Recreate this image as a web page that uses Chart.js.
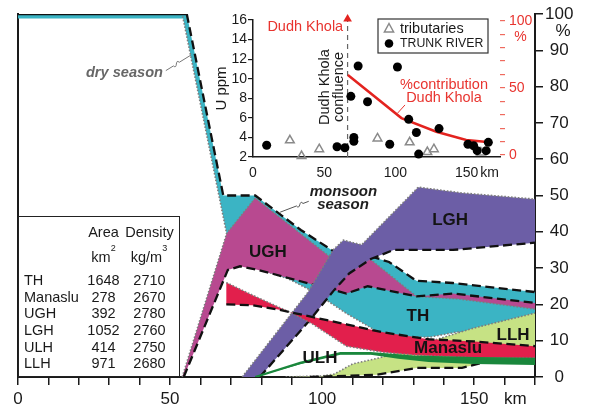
<!DOCTYPE html>
<html>
<head>
<meta charset="utf-8">
<script src="https://cdn.jsdelivr.net/npm/chart.js"></script>
<style>
html,body{margin:0;padding:0;background:#fff;}
#wrap{position:relative;width:589px;height:411px;overflow:hidden;font-family:"Liberation Sans",Arial,Helvetica,sans-serif;color:#1a1a1a;}
#main{position:absolute;left:0;top:0;}
#inset{position:absolute;left:200px;top:0;}
#tbl{position:absolute;left:18px;top:216px;width:162px;height:161px;border:1.5px solid #222;box-sizing:border-box;}
.t{position:absolute;font-size:14.5px;line-height:16px;white-space:nowrap;}
.c{width:70px;text-align:center;}
sup{font-size:9px;line-height:0;vertical-align:top;position:relative;top:-1px;}
</style>
</head>
<body>
<div id="wrap">
  <canvas id="main" width="589" height="411"></canvas>
  <canvas id="inset" width="345" height="185"></canvas>
  <div id="tbl"></div>
  <div id="tbltext"></div>
</div>
<script>
// ---------------- DATA ----------------
// Main plot: % contribution vs distance (km); dry season (dotted) and monsoon season (dashed) curves
const thMonsoon  = [[0,100],[55.5,100],[67.5,50],[78,50],[93,40.5],[104,34.5],[115,33.5],[122,31.7],[131,26.5],[143,25.9],[170,23.4]];
const thDry      = [[0,100],[54,100],[68.6,39.5],[76,31],[81,29.2],[89,27],[96,24],[100.3,21.8],[108,17.5],[119,12.1],[128,11],[135.5,11],[144.4,12.4],[170,12]];
const ughDry     = [[54,0],[68.6,39.5],[78,49.3],[108,29.5],[115,33],[131,22.2],[145,21.5],[170,18.7]];
const ughMonsoon = [[54.5,0],[69,29.5],[73,30.5],[79,29.5],[108,23],[115,25],[131,22.2],[143,23],[170,20.4]];
const lghDry     = [[73.7,0],[95.4,23.4],[103.6,35],[107,37.7],[113,36.4],[131.6,52.3],[146,50.7],[170,49]];
const lghMonsoon = [[79.5,0],[96,15.7],[104,24],[109,28.6],[116,32.5],[123.5,35],[143,35],[170,37]];
const llhDry     = [[88,0],[100,0.3],[104,0.8],[110,3.6],[119,5.3],[130,8],[137,10.2],[150,13.5],[170,17.6]];
const llhMonsoon = [[96,0],[118,0.6],[131,2.5],[146,2.5],[153,4],[170,4.2]];
const manDry     = [[68.5,26],[77,22.6],[90,17.6],[97,14.5],[108,8.5],[120,6.8],[131,6],[150,5.3],[170,5.2]];
const manMonsoon = [[68.5,20],[77,19.8],[86,18.5],[97,16.5],[108,14.5],[120,12.3],[135,10.4],[150,9.8],[170,8.5]];
const ulhUpper   = [[78,0],[92.8,3.9],[106,6.6],[116,6.6],[130,5.6],[150,5.2],[170,5.0]];
const ulhLower   = [[78,0],[92.8,3.5],[106,6.1],[116,6.1],[125,5.0],[135,4.1],[150,3.6],[170,3.3]];

// Inset: U ppm vs distance
const tribKm  = [25.9,34.1,46.5,87.4,110,122.4,127,160];
const tribU   = [3.7,2.1,2.8,3.9,3.5,2.5,2.8,2.45];
const trunkKm = [9.6,59,64.5,68.7,73.8,70.8,70.8,80.4,101.4,96,109.3,114.7,116.3,130.6,150.9,154.9,157.4,163.7,165.2];
const trunkU  = [3.2,3.05,2.95,8.2,11.3,4.0,3.6,7.65,11.2,3.3,5.85,4.5,2.3,4.9,3.3,3.15,2.65,2.65,3.5];
const contribKm  = [66.6,104.2,128.7,149.7,162.6];
const contribPct = [59.6,27.5,17.3,11.2,9.9];
const confluenceKm = 66.4;

// Table
const tableUnits   = ['TH','Manaslu','UGH','LGH','ULH','LLH'];
const tableArea    = [1648,278,392,1052,414,971];
const tableDensity = [2710,2670,2780,2760,2750,2680];

// Tick labels
const mainXLabels = [0,50,100,150];
const insetRedLabels = [0,50,100];

// ---------------- STYLE ----------------
const FAM = "'Liberation Sans', Arial, Helvetica, sans-serif";
const TEAL='#3bb4c4', MAG='#b84990', PURP='#6c5ea6', RED='#e21f4c', LGRN='#c6e284', DGRN='#1a873c';
const INK='#1a1a1a', REDT='#e8342f';
Chart.defaults.font.family = FAM;
Chart.defaults.color = INK;
Chart.defaults.animation = false;

const P = a => a.map(p => ({x:p[0], y:p[1]}));
const polygon = (upper, lower) => P(upper.concat(lower.slice().reverse(), [upper[0]]));

const ds = [];
let ord = 1000;
function addFill(upper, lower, color){
  ds.push({data: polygon(upper, lower), fill:'shape', backgroundColor:color, borderColor:'rgba(0,0,0,0)',
           borderWidth:0, pointRadius:0, tension:0, yAxisID:'y', order: ord--});
}
function addLine(pts, style, extra){
  ds.push(Object.assign({data:P(pts), fill:false, pointRadius:0, tension:0, yAxisID:'y', order: ord--}, style, extra||{}));
}
const DRY = {borderColor:'#7d7d7d', borderWidth:1.6, borderDash:[1.6,1.8]};
const MON = {borderColor:'#111', borderWidth:2.3, borderDash:[9,4.5]};

// TH
addFill(thMonsoon, thDry, TEAL);
addLine(thMonsoon.filter(p => p[1] === 100), {borderColor:TEAL, borderWidth:9}, {clip:0});
addLine(thDry, DRY);
addLine(thMonsoon, MON, {segment:{borderDash: c => (c.p0.parsed.y === 100 && c.p1.parsed.y === 100) ? [] : undefined}});
// UGH
addFill(ughDry, ughMonsoon, MAG); addLine(ughDry, DRY); addLine(ughMonsoon, MON);
// LGH
addFill(lghDry, lghMonsoon, PURP); addLine(lghDry, DRY); addLine(lghMonsoon, MON);
// LLH
addFill(llhDry, llhMonsoon, LGRN); addLine(llhDry, DRY); addLine(llhMonsoon, MON);
// Manaslu
addFill(manDry, manMonsoon, RED); addLine(manDry, DRY); addLine(manMonsoon, MON);
// ULH
addFill(ulhUpper, ulhLower, DGRN); addLine(ulhUpper, {borderColor:DGRN, borderWidth:2.2});

function squiggle(ctx, ax, ay, bx, by, t0){
  const dx=bx-ax, dy=by-ay, L=Math.hypot(dx,dy), ux=dx/L, uy=dy/L, nx=-uy, ny=ux;
  const m1x=ax+dx*t0, m1y=ay+dy*t0, m2x=m1x+ux*7, m2y=m1y+uy*7;
  ctx.beginPath(); ctx.moveTo(ax,ay); ctx.lineTo(m1x,m1y);
  ctx.bezierCurveTo(m1x+ux*2+nx*6, m1y+uy*2+ny*6, m2x-ux*2-nx*6, m2y-uy*2-ny*6, m2x, m2y);
  ctx.lineTo(bx,by); ctx.stroke();
}

const mainAnno = {
  id:'mainAnno',
  afterDraw(chart){
    const {ctx, chartArea:ca, scales:{x, y}} = chart;
    const X=v=>x.getPixelForValue(v), Y=v=>y.getPixelForValue(v);
    ctx.save();
    ctx.textAlign='center'; ctx.textBaseline='middle';
    ctx.fillStyle='#141414'; ctx.font=`bold 17px ${FAM}`;
    [['UGH',82.2,34.4],['LGH',142.1,43.3],['TH',131.5,16.6],['LLH',162.8,11.6],['Manaslu',141.4,8.0],['ULH',99.3,5.2]]
      .forEach(([t,kx,ky]) => ctx.fillText(t, X(kx), Y(ky)));
    // season annotations
    ctx.font=`italic bold 14.6px ${FAM}`; ctx.fillStyle='#676767';
    ctx.fillText('dry season', X(35), Y(83.7));
    ctx.strokeStyle='#777'; ctx.lineWidth=1;
    squiggle(ctx, X(48.6), Y(84.4), X(56.9), Y(88.7), 0.3);
    ctx.font=`italic bold 15px ${FAM}`; ctx.fillStyle='#1f1f1f';
    ctx.fillText('monsoon', X(107), Y(51.0));
    ctx.fillText('season', X(106.9), Y(47.3));
    ctx.strokeStyle='#555';
    squiggle(ctx, X(95.6), Y(48.4), X(86.2), Y(45.4), 0.2);
    // axis units
    ctx.fillStyle=INK; ctx.font=`17px ${FAM}`;
    ctx.fillText('%', ca.right+28, Y(100)+17);
    ctx.fillText('km', X(163.5), ca.bottom+22);
    ctx.restore();
  }
};

new Chart(document.getElementById('main'), {
  type:'line',
  data:{datasets: ds},
  options:{
    responsive:false, events:[],
    layout:{padding:{left:18, top:14, right:0, bottom:0}},
    plugins:{legend:{display:false}, tooltip:{enabled:false}},
    elements:{point:{radius:0}, line:{tension:0}},
    scales:{
      x:{type:'linear', min:0, max:170, position:'bottom',
         ticks:{stepSize:10, autoSkip:false, maxRotation:0, font:{size:17}, color:INK, padding:4,
                callback:v => mainXLabels.includes(v) ? String(v) : ''},
         grid:{display:true, drawOnChartArea:false, drawTicks:true, tickLength:8, color:INK, lineWidth:1.5},
         border:{display:true, color:INK, width:2},
         afterFit(s){ s.height = 34; }},
      y:{type:'linear', position:'right', min:0, max:100,
         ticks:{stepSize:10, autoSkip:false, font:{size:17}, color:INK, padding:2, crossAlign:'center'},
         grid:{drawOnChartArea:false, tickLength:8, color:INK, lineWidth:1.5},
         border:{display:true, color:INK, width:2},
         afterFit(s){ s.width = 54; }},
      yL:{type:'linear', position:'left', min:0, max:100,
         ticks:{display:false}, grid:{display:false, drawTicks:false},
         border:{display:true, color:INK, width:2},
         afterFit(s){ s.width = 0; }}
    }
  },
  plugins:[mainAnno]
});

// ---------------- INSET ----------------
const insetAnno = {
  id:'insetAnno',
  afterDraw(chart){
    const {ctx, chartArea:ca, scales:{x, y}} = chart;
    const X=v=>x.getPixelForValue(v), Y=v=>y.getPixelForValue(v);
    ctx.save();
    ctx.textAlign='center'; ctx.textBaseline='middle';
    ctx.fillStyle=REDT; ctx.font=`14.5px ${FAM}`;
    ctx.fillText('Dudh Khola', X(36.7), Y(15.32));
    ctx.fillText('%contribution', X(134.1), Y(9.36));
    ctx.fillText('Dudh Khola', X(134.1), Y(8.03));
    ctx.font=`14px ${FAM}`;
    ctx.fillText('%', ca.right+20.5, Y(16)+17);
    ctx.strokeStyle=REDT; ctx.lineWidth=1;
    ctx.beginPath(); ctx.moveTo(X(106.7), Y(7.32)); ctx.lineTo(X(101.3), Y(6.45)); ctx.stroke();
    // rotated confluence label
    ctx.fillStyle=INK; ctx.font=`14.5px ${FAM}`;
    [['Dudh Khola',50.5],['confluence',60.4]].forEach(([t,k]) => {
      ctx.save(); ctx.translate(X(k), Y(9.15)); ctx.rotate(-Math.PI/2); ctx.fillText(t,0,0); ctx.restore();
    });
    ctx.font=`14px ${FAM}`;
    ctx.fillText('km', X(150)+23, ca.bottom+16);
    // legend
    const lx=ca.left+125, ly=19;
    ctx.fillStyle='#fff'; ctx.fillRect(lx, ly, 110, 34);
    ctx.strokeStyle='#333'; ctx.lineWidth=1.2; ctx.strokeRect(lx, ly, 110, 34);
    const tx=lx+11, t1=ly+9.5, t2=ly+24.5;
    ctx.strokeStyle='#8a8a8a'; ctx.lineWidth=1.5;
    ctx.beginPath(); ctx.moveTo(tx, t1-5); ctx.lineTo(tx+4.6, t1+3.5); ctx.lineTo(tx-4.6, t1+3.5); ctx.closePath(); ctx.stroke();
    ctx.fillStyle='#000'; ctx.beginPath(); ctx.arc(tx, t2, 4.3, 0, Math.PI*2); ctx.fill();
    ctx.textAlign='left'; ctx.fillStyle=INK;
    ctx.font=`14.5px ${FAM}`; ctx.fillText('tributaries', lx+22, t1);
    ctx.font=`12.3px ${FAM}`; ctx.fillText('TRUNK RIVER', lx+22, t2+0.5);
    ctx.restore();
  }
};

new Chart(document.getElementById('inset'), {
  type:'line',
  data:{datasets:[
    {data: contribKm.map((k,i)=>({x:k, y:contribPct[i]})), yAxisID:'yR', borderColor:'#e3231f', borderWidth:2.5, pointRadius:0, fill:false, order:1},
    {data: trunkKm.map((k,i)=>({x:k, y:trunkU[i]})), yAxisID:'y', showLine:false, pointRadius:4.5, pointBackgroundColor:'#000', pointBorderWidth:0, clip:false, order:0},
    {data: tribKm.map((k,i)=>({x:k, y:tribU[i]})), yAxisID:'y', showLine:false, pointStyle:'triangle', pointRadius:5,
     pointBackgroundColor:'rgba(255,255,255,0)', pointBorderColor:'#8a8a8a', pointBorderWidth:1.5, clip:false, order:2},
    {data:[{x:confluenceKm, y:2},{x:confluenceKm, y:16.1}], yAxisID:'y', borderColor:'#666', borderWidth:1.2, borderDash:[5,4],
     pointStyle:'triangle', pointRadius:c => c.dataIndex === 1 ? 5 : 0, pointBackgroundColor:'#e3231f', pointBorderColor:'#e3231f',
     pointBorderWidth:0, fill:false, clip:false, order:3}
  ]},
  options:{
    responsive:false, events:[],
    layout:{padding:{left:0, top:20, right:0, bottom:0}},
    plugins:{legend:{display:false}, tooltip:{enabled:false}},
    scales:{
      x:{type:'linear', min:0, max:173.4,
         ticks:{stepSize:50, includeBounds:false, autoSkip:false, font:{size:14}, color:INK, padding:8, maxRotation:0},
         grid:{display:false, drawTicks:false},
         border:{display:true, color:INK, width:1.5},
         afterFit(s){ s.height = 28; }},
      y:{type:'linear', position:'left', min:2, max:16,
         ticks:{stepSize:2, autoSkip:false, font:{size:14}, color:INK, padding:1},
         grid:{drawOnChartArea:false, tickLength:5, color:INK, lineWidth:1.2},
         border:{display:true, color:INK, width:1.5},
         title:{display:true, text:'U ppm', font:{size:15}, color:INK, padding:{top:13, bottom:0}},
         afterFit(s){ s.width = 53; }},
      yR:{type:'linear', position:'right', min:-1.5, max:100.5,
         ticks:{stepSize:10, includeBounds:false, autoSkip:false, color:REDT, font:{size:14}, padding:4, crossAlign:'near',
                callback:v => insetRedLabels.includes(v) ? String(v) : ''},
         grid:{drawOnChartArea:false, tickLength:5, color:'#ef6a5f', lineWidth:1.2},
         border:{display:false},
         afterFit(s){ s.width = 45; }}
    }
  },
  plugins:[insetAnno]
});

// ---------------- TABLE (HTML text) ----------------
(function(){
  const box = document.getElementById('tbltext');
  function put(html, left, top, cls){
    const d=document.createElement('div'); d.className='t'+(cls?' '+cls:''); d.innerHTML=html;
    d.style.left=left+'px'; d.style.top=top+'px'; box.appendChild(d);
  }
  put('Area', 103.5-35, 232-8, 'c');
  put('Density', 149.5-35, 232-8, 'c');
  put('km<sup>2</sup>', 103.5-35, 257-8, 'c');
  put('kg/m<sup>3</sup>', 149-35, 257-8, 'c');
  tableUnits.forEach((u,i) => {
    const yc = 280 + i*16.67;
    put(u, 24, yc-8);
    put(String(tableArea[i]), 103.5-35, yc-8, 'c');
    put(String(tableDensity[i]), 149.5-35, yc-8, 'c');
  });
})();
</script>
</body>
</html>
